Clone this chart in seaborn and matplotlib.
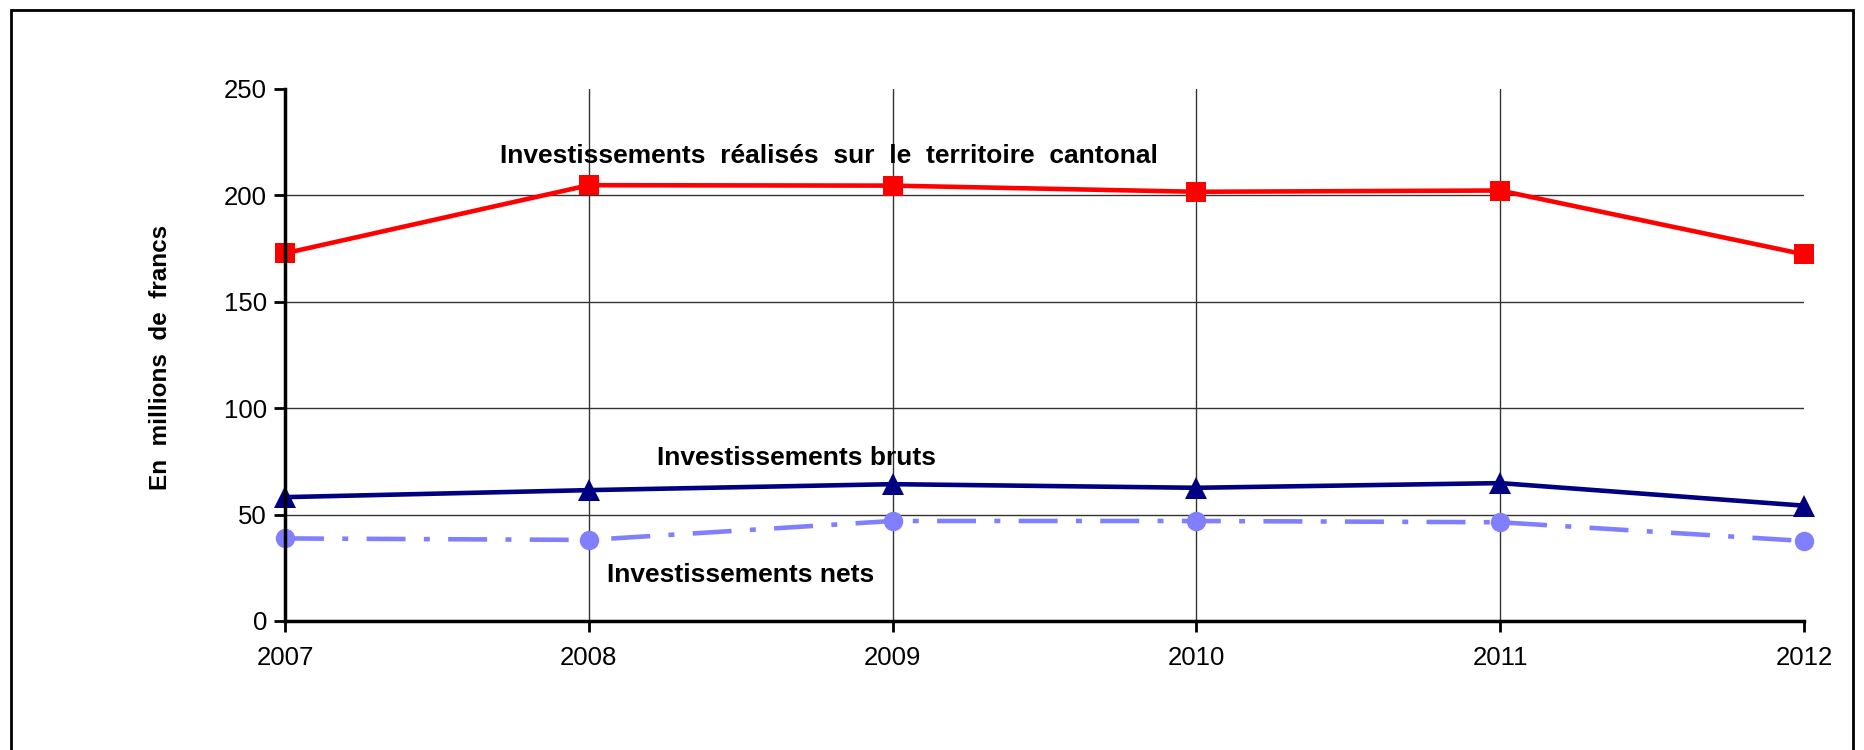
import matplotlib
matplotlib.use("Agg")
import matplotlib.pyplot as plt
import seaborn as sns
import pandas as pd
from matplotlib.patches import Rectangle

years = [2007, 2008, 2009, 2010, 2011, 2012]
territoire = [172.8, 204.8, 204.6, 201.7, 202.3, 172.3]
bruts = [58.2, 61.5, 64.3, 62.6, 64.8, 54.2]
nets = [38.8, 38.1, 47.0, 47.0, 46.4, 37.6]
y_ticks = [0, 50, 100, 150, 200, 250]

label_territoire = "Investissements  réalisés  sur  le  territoire  cantonal"
label_bruts = "Investissements bruts"
label_nets = "Investissements nets"
ylabel = "En  millions  de  francs"

sns.set_theme(style="white")
plt.rcParams['font.family'] = ['Liberation Sans', 'DejaVu Sans']
plt.rcParams['text.color'] = 'black'
plt.rcParams['axes.labelcolor'] = 'black'

fig = plt.figure(figsize=(18.65, 7.5), dpi=100)
ax = fig.add_axes([285/1865, 1-621/750, (1804-285)/1865, (621-89)/750])

df = pd.DataFrame({"year": years, "territoire": territoire, "bruts": bruts, "nets": nets})

sns.lineplot(data=df, x="year", y="territoire", ax=ax, color="#FF0000", lw=3.3,
             marker="s", markersize=14, markeredgewidth=0, zorder=5, clip_on=False)
sns.lineplot(data=df, x="year", y="bruts", ax=ax, color="#000080", lw=3.3,
             marker="^", markersize=16, markeredgewidth=0, zorder=5, clip_on=False)
sns.lineplot(data=df, x="year", y="nets", ax=ax, color="#8080FF", lw=3.3,
             marker="o", markersize=14, markeredgewidth=0, zorder=5, clip_on=False)
ax.lines[-1].set_dashes([8.5, 4, 1.3, 4])

ax.set_xlim(2007, 2012)
ax.set_ylim(0, 250)
ax.set_xticks(years)
ax.set_xticklabels([str(y) for y in years])
ax.set_yticks(y_ticks)
ax.set_xlabel("")
ax.set_ylabel("")
ax.tick_params(axis="both", which="both", direction="out", length=8, width=2,
               labelsize=18.5, colors="black", bottom=True, left=True)
ax.tick_params(axis="x", pad=10)
ax.tick_params(axis="y", pad=5)
for side in ["top", "right"]:
    ax.spines[side].set_visible(False)
for side in ["left", "bottom"]:
    ax.spines[side].set_color("black")
    ax.spines[side].set_linewidth(2.5)
    ax.spines[side].set_zorder(6)

ax.grid(True, axis="both", color="#333333", lw=1)
ax.set_axisbelow(True)
ax.yaxis.get_gridlines()[-1].set_visible(False)
ax.xaxis.get_gridlines()[-1].set_visible(False)

ax.text(2008.79, 218.5, label_territoire, ha="center", va="center", fontsize=19,
        fontweight="bold")
ax.text(2008.685, 76.6, label_bruts, ha="center", va="center", fontsize=19, fontweight="bold")
ax.text(2008.50, 21.6, label_nets, ha="center", va="center", fontsize=19, fontweight="bold",
        bbox=dict(facecolor="white", edgecolor="none", pad=2))

fig.text(161/1865, 1-357/750, ylabel, rotation=90, ha="center", va="center",
         fontsize=17.5, fontweight="bold")

fig.add_artist(Rectangle((11/1865, -0.1), (1853-11)/1865, 1.1-10/750,
                         transform=fig.transFigure, fill=False, edgecolor="black", lw=2))

fig.savefig("out.png", dpi=100)
